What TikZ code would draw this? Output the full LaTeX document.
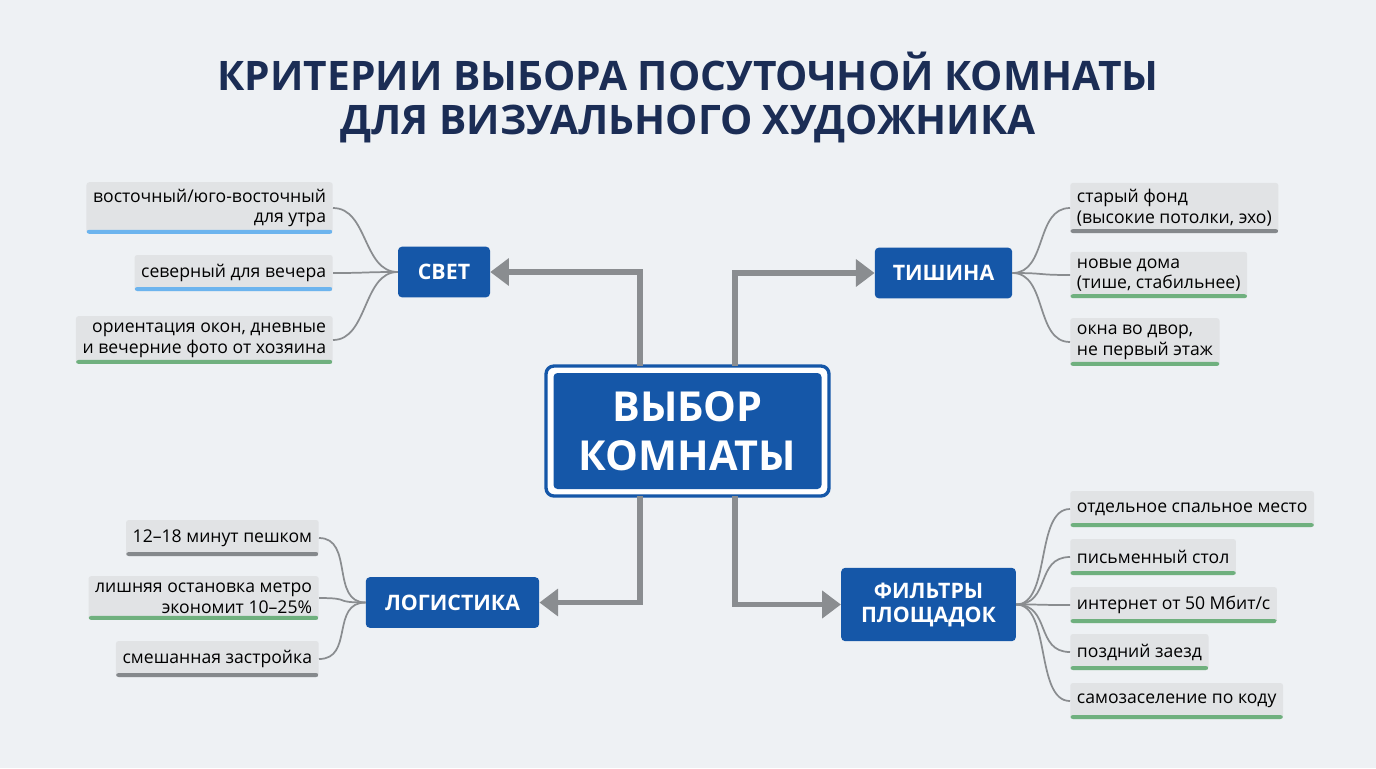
\documentclass[tikz,border=0pt]{standalone}
\usepackage{fontspec}
\setmainfont{Open Sans}
\usetikzlibrary{arrows.meta}
\definecolor{bg}{HTML}{EEF1F4}
\definecolor{navy}{HTML}{1B2D55}
\definecolor{cblue}{HTML}{1557A8}
\definecolor{leafg}{HTML}{E1E3E5}
\definecolor{bblue}{HTML}{6CB4EE}
\definecolor{bgreen}{HTML}{6FB07E}
\definecolor{bgray}{HTML}{85898C}
\definecolor{conn}{HTML}{8A8D90}
\begin{document}
\begin{tikzpicture}[x=0.75pt,y=-0.75pt,
 cat/.style={fill=cblue,rounded corners=3pt,text=white,font=\bfseries\fontsize{16}{18}\selectfont,align=center,inner sep=0pt},
 leaf/.style={fill=leafg,rounded corners=2pt,font=\fontsize{13.2}{15.5}\selectfont,inner xsep=5pt,inner ysep=5pt,minimum height=27pt,
   path picture={\fill[#1] ([yshift=-3pt]path picture bounding box.south west) rectangle ([yshift=3pt]path picture bounding box.south east);}},
 arr/.style={draw=conn,line width=4pt,-{Triangle[length=14pt,width=20pt]}},
 cn/.style={draw=conn,line width=1.3pt}]
\fill[bg] (0,0) rectangle (1376,768);
\useasboundingbox (0,0) rectangle (1376,768);
\node[text=navy,font=\bfseries\fontsize{30.5}{33}\selectfont,align=center] (title) at (688,97) {КРИТЕРИИ ВЫБОРА ПОСУТОЧНОЙ КОМНАТЫ\\ДЛЯ ВИЗУАЛЬНОГО ХУДОЖНИКА};
% center
\draw[cblue,line width=2.5pt,rounded corners=6pt,fill=white] (546,366) rectangle (829,496);
\node[fill=cblue,rounded corners=3pt,minimum width=201pt,minimum height=87pt,text=white,font=\bfseries\fontsize{31}{37}\selectfont,align=center] (c) at (687.5,431) {ВЫБОР\\КОМНАТЫ};
% categories
\node[cat,minimum width=69pt,minimum height=38pt] (svet) at (444,272) {СВЕТ};
\node[cat,minimum width=103pt,minimum height=38pt] (tish) at (943.5,273) {ТИШИНА};
\node[cat,minimum width=130pt,minimum height=38pt] (log) at (452.5,602.5) {ЛОГИСТИКА};
\node[cat,minimum width=131pt,minimum height=55pt] (filt) at (928.5,604.5) {ФИЛЬТРЫ\\ПЛОЩАДОК};
% arrows
\draw[arr] (640,366) |- (svet.east);
\draw[arr] (735,366) |- (tish.west);
\draw[arr] (640,496) |- (log.east);
\draw[arr] (735,496) |- (filt.west);
% left leaves
\node[leaf=bblue,align=right,anchor=east] (s1) at (333,208) {восточный/юго-восточный\\для утра};
\node[leaf=bblue,align=right,anchor=east] (s2) at (333,273) {северный для вечера};
\node[leaf=bgreen,align=right,anchor=east] (s3) at (333,340) {ориентация окон, дневные\\и вечерние фото от хозяина};
\node[leaf=bgray,align=right,anchor=east] (l1) at (319,538) {12–18 минут пешком};
\node[leaf=bgreen,align=right,anchor=east] (l2) at (319,598) {лишняя остановка метро\\экономит 10–25\%};
\node[leaf=bgray,align=right,anchor=east] (l3) at (319,659) {смешанная застройка};
% right leaves
\node[leaf=bgray,align=left,anchor=west] (t1) at (1070,208) {старый фонд\\(высокие потолки, эхо)};
\node[leaf=bgreen,align=left,anchor=west] (t2) at (1070,275) {новые дома\\(тише, стабильнее)};
\node[leaf=bgreen,align=left,anchor=west] (t3) at (1070,342) {окна во двор,\\не первый этаж};
\node[leaf=bgreen,align=left,anchor=west] (f1) at (1070,509) {отдельное спальное место};
\node[leaf=bgreen,align=left,anchor=west] (f2) at (1070,557) {письменный стол};
\node[leaf=bgreen,align=left,anchor=west] (f3) at (1070,605) {интернет от 50 Мбит/с};
\node[leaf=bgreen,align=left,anchor=west] (f4) at (1070,652) {поздний заезд};
\node[leaf=bgreen,align=left,anchor=west] (f5) at (1070,701) {самозаселение по коду};
% curved connectors
\foreach \l in {s1,s2,s3} \draw[cn] (svet.west) .. controls +(-35,0) and +(35,0) .. (\l.east);
\foreach \l in {l1,l2,l3} \draw[cn] (log.west) .. controls +(-35,0) and +(35,0) .. (\l.east);
\foreach \l in {t1,t2,t3} \draw[cn] (tish.east) .. controls +(35,0) and +(-35,0) .. (\l.west);
\foreach \l in {f1,f2,f3,f4,f5} \draw[cn] (filt.east) .. controls +(35,0) and +(-35,0) .. (\l.west);
\end{tikzpicture}
\end{document}
